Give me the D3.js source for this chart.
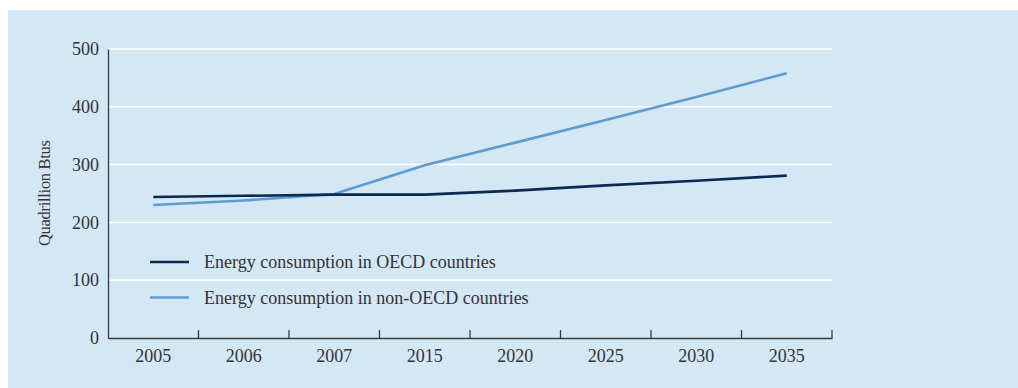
<!DOCTYPE html>
<html>
<head>
<meta charset="utf-8">
<script src="https://cdn.jsdelivr.net/npm/d3@7"></script>
<style>
  body { margin: 0; background: #fff; }
  svg { display: block; }
</style>
</head>
<body>
<svg id="chart" width="1018" height="388"></svg>
<script>
// data
const years = ["2005", "2006", "2007", "2015", "2020", "2025", "2030", "2035"];
const oecd = [244, 246, 248, 248, 255, 264, 272, 281];
const nonOecd = [230, 238, 249, 299, 338, 377, 417, 458];
const yTicks = [0, 100, 200, 300, 400, 500];
const seriesNames = ["Energy consumption in OECD countries", "Energy consumption in non-OECD countries"];
const seriesColors = ["#0b2a4f", "#5e9ccf"];

const svg = d3.select("#chart");
const font = "'Liberation Serif', 'DejaVu Serif', serif";

const area = { left: 108, right: 832, top: 49, bottom: 338 };

svg.append("rect")
    .attr("x", 8).attr("y", 10)
    .attr("width", 1010).attr("height", 378)
    .attr("fill", "#d3e7f5");

const scX = d3.scaleBand()
    .domain(years)
    .range([area.left, area.right]);

const scY = d3.scaleLinear()
    .domain([0, 500])
    .range([area.bottom, area.top]);

// gridlines
svg.append("g")
    .selectAll("line")
    .data(yTicks.filter(d => d > 0))
    .enter()
    .append("line")
    .attr("x1", area.left)
    .attr("x2", area.right)
    .attr("y1", d => scY(d))
    .attr("y2", d => scY(d))
    .attr("stroke", "#fff")
    .attr("stroke-width", 1.5);

// y axis
const axisY = svg.append("g")
    .attr("transform", `translate(${area.left},0)`)
    .call(d3.axisLeft(scY).tickValues(yTicks).tickSize(0).tickPadding(9));
axisY.select(".domain").attr("stroke", "#3a3a3a").attr("stroke-width", 1.3);
axisY.selectAll("text")
    .style("font-family", font)
    .style("font-size", "18px")
    .attr("fill", "#333");

// x axis: labels in band centres, ticks on band boundaries
const axisX = svg.append("g")
    .attr("transform", `translate(0,${area.bottom})`)
    .call(d3.axisBottom(scX).tickSize(0).tickPadding(11));
axisX.select(".domain").attr("stroke", "#3a3a3a").attr("stroke-width", 1.3);
axisX.selectAll("text")
    .style("font-family", font)
    .style("font-size", "18px")
    .attr("fill", "#333");

svg.append("g")
    .selectAll("line")
    .data(years.slice(1).concat(["end"]))
    .enter()
    .append("line")
    .attr("x1", d => d === "end" ? area.right : scX(d))
    .attr("x2", d => d === "end" ? area.right : scX(d))
    .attr("y1", area.bottom)
    .attr("y2", area.bottom - 8)
    .attr("stroke", "#3a3a3a")
    .attr("stroke-width", 1.3);

// y label
svg.append("text")
    .attr("transform", `translate(50,193) rotate(-90)`)
    .attr("text-anchor", "middle")
    .style("font-family", font)
    .style("font-size", "16.5px")
    .attr("textLength", 106)
    .attr("fill", "#333")
    .text("Quadrillion Btus");

// lines
const line = d3.line()
    .x((d, i) => scX(years[i]) + scX.bandwidth() / 2)
    .y(d => scY(d));

[nonOecd, oecd].forEach((vals, k) => {
    svg.append("path")
        .datum(vals)
        .attr("d", line)
        .attr("fill", "none")
        .attr("stroke", seriesColors[1 - k])
        .attr("stroke-width", 2.6);
});

// legend
const legend = svg.append("g")
    .selectAll("g")
    .data(seriesNames)
    .enter()
    .append("g")
    .attr("transform", (d, i) => `translate(150,${262 + i * 35.5})`);

legend.append("line")
    .attr("x1", 0).attr("x2", 39)
    .attr("stroke", (d, i) => seriesColors[i])
    .attr("stroke-width", 2.6);

legend.append("text")
    .attr("x", 54)
    .attr("y", 6)
    .style("font-family", font)
    .style("font-size", "18px")
    .attr("fill", "#333")
    .text(d => d);
</script>
</body>
</html>
